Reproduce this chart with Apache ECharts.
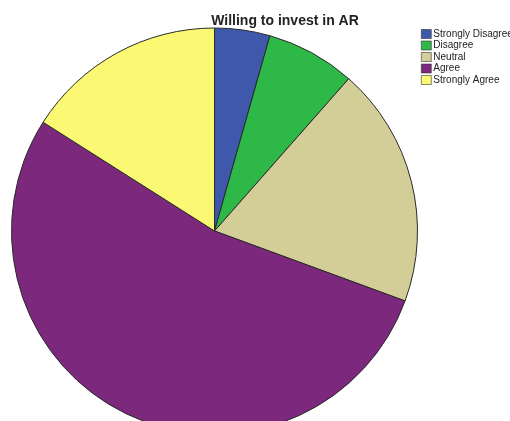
<!DOCTYPE html>
<html><head><meta charset="utf-8">
<script src="https://cdn.jsdelivr.net/npm/echarts@6/dist/echarts.min.js"></script>
<style>html,body{margin:0;padding:0;background:#fff}#c{width:510px;height:421px}</style>
</head><body><div id="c"></div>
<script>
const categories = ["Strongly Disagree", "Disagree", "Neutral", "Agree", "Strongly Agree"];
const values = [4.4, 7.1, 19.1, 53.4, 16.0];
const colors = ["#3E58AC", "#2EB848", "#D3CE97", "#7C287D", "#FBF873"];
const chart = echarts.init(document.getElementById('c'), null, {renderer: 'canvas'});
chart.setOption({
  animation: false,
  backgroundColor: '#fff',
  title: {
    text: 'Willing to invest in AR',
    left: 280, top: 9, textAlign: 'center',
    textStyle: {fontFamily: 'Liberation Sans, Arial, sans-serif', fontWeight: 'bold', fontSize: 14, color: '#222'}
  },
  legend: {
    orient: 'vertical', left: 421, top: 29, padding: 0,
    itemWidth: 10, itemHeight: 9, itemGap: 1.5,
    icon: 'rect',
    itemStyle: {borderColor: '#333', borderWidth: 0.6},
    textStyle: {fontFamily: 'Liberation Sans, Arial, sans-serif', fontSize: 10, color: '#222', lineHeight: 9, padding: [0,0,0,-3]},
    data: categories
  },
  series: [{
    type: 'pie',
    center: [214.5, 231],
    radius: 203,
    startAngle: 90,
    clockwise: true,
    label: {show: false},
    labelLine: {show: false},
    emphasis: {disabled: true},
    itemStyle: {borderColor: '#2a2a2a', borderWidth: 1},
    data: categories.map((n, i) => ({name: n, value: values[i], itemStyle: {color: colors[i]}}))
  }]
});
</script></body></html>
